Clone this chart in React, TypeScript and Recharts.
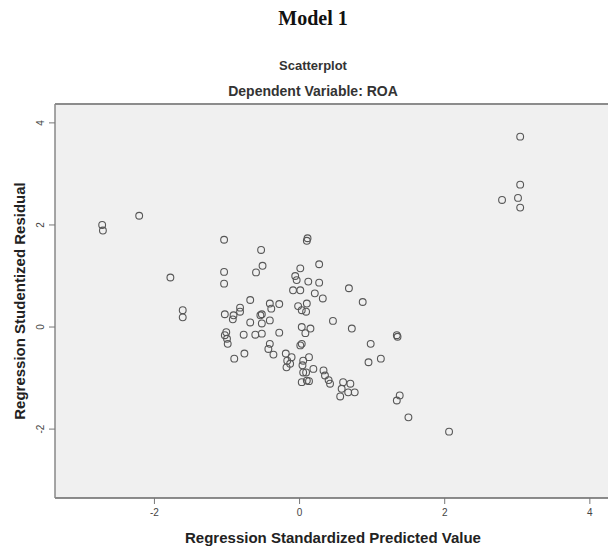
import React from "react";
import {
  ScatterChart,
  Scatter,
  XAxis,
  YAxis,
  ReferenceArea,
  ReferenceLine,
} from "recharts";

// Regression Standardized Predicted Value
const predicted: number[] = [
  -2.72, -2.71, -2.21, -1.78, -1.61, -1.61,
  -1.04, -0.53, -0.51, -0.6, -1.04, -1.04,
  0.1, 0.11, 0.01, -0.06, -0.04, -0.09, 0.01, 0.12, 0.27, 0.27, 0.21, 0.32,
  0.68, 0.87, 0.46, -0.68, -0.82, -1.03, -0.82, -0.91, -0.92,
  -0.41, -0.28, -0.39, -0.52, -0.54, -0.41, -0.52,
  -0.02, 0.1, 0.03, 0.09, -0.68,
  -1.01, -1.0, -0.99, -1.03, -0.77, -0.61, -0.52, -0.28,
  -0.41, -0.43, -0.36, -0.9, -0.76, -0.19, -0.17, -0.18,
  0.03, 0.03, 0.05, 0.05, 0.03, 0.1,
  0.72, 0.15, 0.08, 0.01, 0.98, 0.95, 1.12, -0.11, -0.13,
  0.13, 0.04, 0.09, 0.19, 0.33, 0.35, 0.4, 0.42, 0.13,
  0.6, 0.7, 0.58, 0.67, 0.76, 0.56,
  1.34, 1.35, 1.38, 1.34, 1.5, 2.06,
  3.04, 3.04, 3.01, 3.04, 2.79,
];

// Regression Studentized Residual
const residual: number[] = [
  2.0, 1.89, 2.18, 0.97, 0.33, 0.19,
  1.71, 1.51, 1.2, 1.07, 1.08, 0.85,
  1.69, 1.74, 1.15, 1.0, 0.92, 0.72, 0.72, 0.89, 0.87, 1.23, 0.66, 0.56,
  0.76, 0.49, 0.12, 0.53, 0.38, 0.25, 0.3, 0.23, 0.15,
  0.46, 0.45, 0.36, 0.25, 0.23, 0.13, 0.07,
  0.41, 0.46, 0.33, 0.3, 0.09,
  -0.1, -0.23, -0.33, -0.16, -0.15, -0.15, -0.13, -0.11,
  -0.33, -0.43, -0.54, -0.62, -0.52, -0.52, -0.66, -0.79,
  0.0, -0.33, -0.66, -0.89, -1.08, -1.05,
  -0.03, -0.03, -0.12, -0.36, -0.33, -0.69, -0.62, -0.59, -0.72,
  -0.59, -0.75, -0.89, -0.82, -0.85, -0.95, -1.04, -1.11, -1.06,
  -1.08, -1.11, -1.21, -1.28, -1.28, -1.36,
  -0.16, -0.19, -1.34, -1.44, -1.77, -2.05,
  3.73, 2.79, 2.53, 2.34, 2.49,
];

const xTicks: number[] = [-2, 0, 2, 4];
const yTicks: number[] = [-2, 0, 2, 4];

const xDomain: [number, number] = [-3.37, 4.25];
const yDomain: [number, number] = [-3.35, 4.37];

const xTitle = "Regression Standardized Predicted Value";
const yTitle = "Regression Studentized Residual";

const points = predicted.map((x, i) => ({ x, y: residual[i] }));

const sans = "Arial, 'Liberation Sans', sans-serif";

const Ring = (props: any) => {
  const { cx, cy } = props;
  if (cx == null || cy == null) return null;
  return (
    <circle cx={cx} cy={cy} r={3.4} fill="none" stroke="#575757" strokeWidth={1.1} />
  );
};

const YTick = (props: any) => {
  const { x, y, payload } = props;
  return (
    <text
      x={x - 3}
      y={y}
      transform={`rotate(-90 ${x - 3} ${y})`}
      textAnchor="middle"
      fontSize={10}
      fill="#444"
      fontFamily={sans}
    >
      {payload.value}
    </text>
  );
};

const XTick = (props: any) => {
  const { x, y, payload } = props;
  return (
    <text
      x={x}
      y={y + 10}
      textAnchor="middle"
      fontSize={10}
      fill="#444"
      fontFamily={sans}
    >
      {payload.value}
    </text>
  );
};

export default function App() {
  return (
    <div
      style={{
        position: "absolute",
        left: 0,
        top: 0,
        width: 608,
        height: 550,
        background: "#fff",
        overflow: "hidden",
      }}
    >
      <div
        style={{
          position: "absolute",
          left: 0,
          width: 626,
          top: 6,
          textAlign: "center",
          fontFamily: "'Liberation Serif', 'DejaVu Serif', serif",
          fontWeight: "bold",
          fontSize: 20,
          lineHeight: "24px",
          color: "#111",
        }}
      >
        Model 1
      </div>
      <div
        style={{
          position: "absolute",
          left: 0,
          width: 626,
          top: 58,
          textAlign: "center",
          fontFamily: sans,
          fontWeight: "bold",
          fontSize: 13,
          lineHeight: "16px",
          color: "#333",
        }}
      >
        Scatterplot
      </div>
      <div
        style={{
          position: "absolute",
          left: 0,
          width: 626,
          top: 83,
          textAlign: "center",
          fontFamily: sans,
          fontWeight: "bold",
          fontSize: 14,
          lineHeight: "17px",
          color: "#333",
        }}
      >
        Dependent Variable: ROA
      </div>
      <ScatterChart
        width={608}
        height={550}
        margin={{ top: 104, right: 0, bottom: 0, left: 0 }}
      >
        <ReferenceArea
          x1={xDomain[0]}
          x2={xDomain[1]}
          y1={yDomain[0]}
          y2={yDomain[1]}
          fill="#f0f0f0"
          fillOpacity={1}
          stroke="none"
          ifOverflow="extendDomain"
        />
        <ReferenceLine y={yDomain[1]} stroke="#8c8c8c" strokeWidth={2} ifOverflow="extendDomain" />
        <XAxis
          type="number"
          dataKey="x"
          domain={xDomain}
          ticks={xTicks}
          allowDataOverflow
          height={52}
          tick={<XTick />}
          tickSize={6}
          tickLine={{ stroke: "#777" }}
          axisLine={{ stroke: "#666", strokeWidth: 1.5 }}
        />
        <YAxis
          type="number"
          dataKey="y"
          domain={yDomain}
          ticks={yTicks}
          allowDataOverflow
          width={55}
          tick={<YTick />}
          tickSize={6}
          tickLine={{ stroke: "#777" }}
          axisLine={{ stroke: "#888", strokeWidth: 1.5 }}
        />
        <Scatter data={points} shape={<Ring />} isAnimationActive={false} />
      </ScatterChart>
      <svg
        width={608}
        height={550}
        style={{ position: "absolute", left: 0, top: 0, pointerEvents: "none" }}
      >
        <text
          x={333}
          y={537}
          textAnchor="middle"
          dominantBaseline="central"
          fontSize={15}
          fontWeight="bold"
          fill="#222"
          fontFamily={sans}
        >
          {xTitle}
        </text>
        <text
          x={19}
          y={301}
          transform="rotate(-90 19 301)"
          textAnchor="middle"
          dominantBaseline="central"
          fontSize={15}
          fontWeight="bold"
          fill="#222"
          fontFamily={sans}
        >
          {yTitle}
        </text>
      </svg>
    </div>
  );
}
